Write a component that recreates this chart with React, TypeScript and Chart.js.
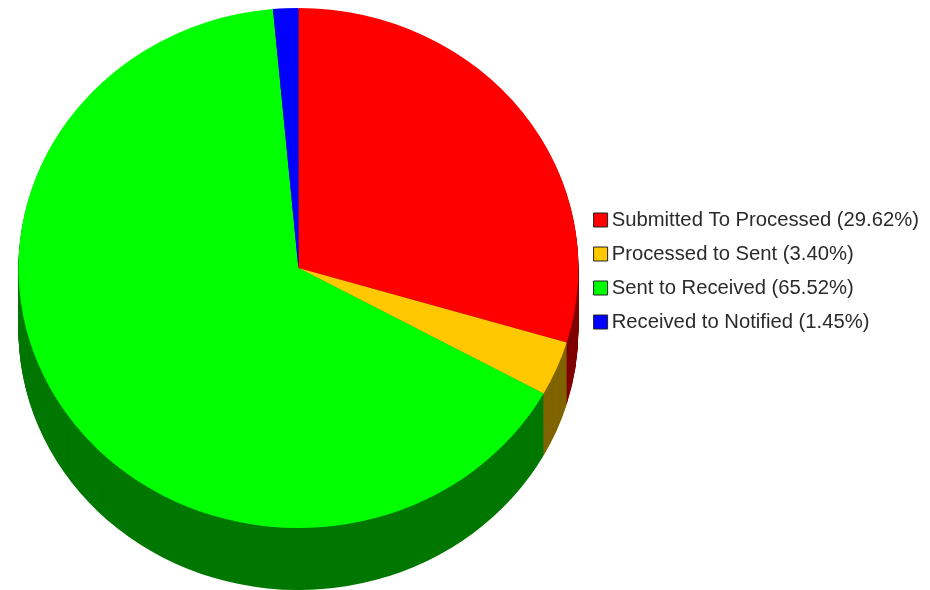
import React, { useEffect, useRef } from "react";
import { Chart, registerables } from "chart.js";

Chart.register(...registerables);

const categories = [
  "Submitted To Processed (29.62%)",
  "Processed to Sent (3.40%)",
  "Sent to Received (65.52%)",
  "Received to Notified (1.45%)",
];
const values = [29.62, 3.4, 65.52, 1.45];
const faceColors = ["#ff0000", "#ffc800", "#00ff00", "#0000ff"];
const sideColors = ["#800000", "#806400", "#007800", "#000080"];

const SQUASH = 260 / 280;
const DEPTH = 62;
const FACE_CY = 268;

const tiltPlugin = {
  id: "tilt",
  beforeDatasetsDraw(chart: any) {
    const ctx = chart.ctx;
    const arcs = chart.getDatasetMeta(0).data;
    if (!arcs.length) return;
    const cy = arcs[0].y;
    const place = (shift: number) => {
      ctx.setTransform(1, 0, 0, SQUASH, 0, FACE_CY + shift - cy * SQUASH);
    };
    ctx.save();
    for (let shift = DEPTH; shift >= 1; shift--) {
      place(shift);
      arcs.forEach((arc: any, i: number) => {
        ctx.beginPath();
        ctx.moveTo(arc.x, arc.y);
        ctx.arc(arc.x, arc.y, arc.outerRadius, arc.startAngle, arc.endAngle);
        ctx.closePath();
        ctx.fillStyle = sideColors[i];
        ctx.fill();
      });
    }
    ctx.restore();
    ctx.save();
    place(0);
  },
  afterDatasetsDraw(chart: any) {
    chart.ctx.restore();
  },
};

export default function App() {
  const ref = useRef<HTMLCanvasElement>(null);

  useEffect(() => {
    const chart = new Chart(ref.current as HTMLCanvasElement, {
      type: "pie",
      data: {
        labels: categories,
        datasets: [
          {
            data: values,
            backgroundColor: faceColors,
            borderWidth: 0,
          },
        ],
      },
      options: {
        responsive: false,
        animation: false,
        layout: { padding: { left: 11, right: 1, top: -18, bottom: 30 } },
        plugins: {
          tooltip: { enabled: false },
          legend: {
            position: "right",
            align: "center",
            labels: {
              color: "#2a2a2a",
              font: { family: "'Liberation Sans', Arial, sans-serif", size: 20.25 },
              padding: 13.75,
              boxWidth: 2,
              boxHeight: 14,
              usePointStyle: true,
              pointStyle: "rect",
              generateLabels: () =>
                categories.map((text, i) => ({
                  text,
                  fillStyle: faceColors[i],
                  strokeStyle: "#222222",
                  lineWidth: 1,
                  pointStyle: "rect",
                  fontColor: "#2a2a2a",
                  index: i,
                })),
            },
          },
        },
      },
      plugins: [tiltPlugin],
    } as any);
    return () => chart.destroy();
  }, []);

  return (
    <canvas
      ref={ref}
      width={930}
      height={590}
      style={{ position: "absolute", left: 0, top: 0, display: "block", width: 930, height: 590 }}
    />
  );
}
